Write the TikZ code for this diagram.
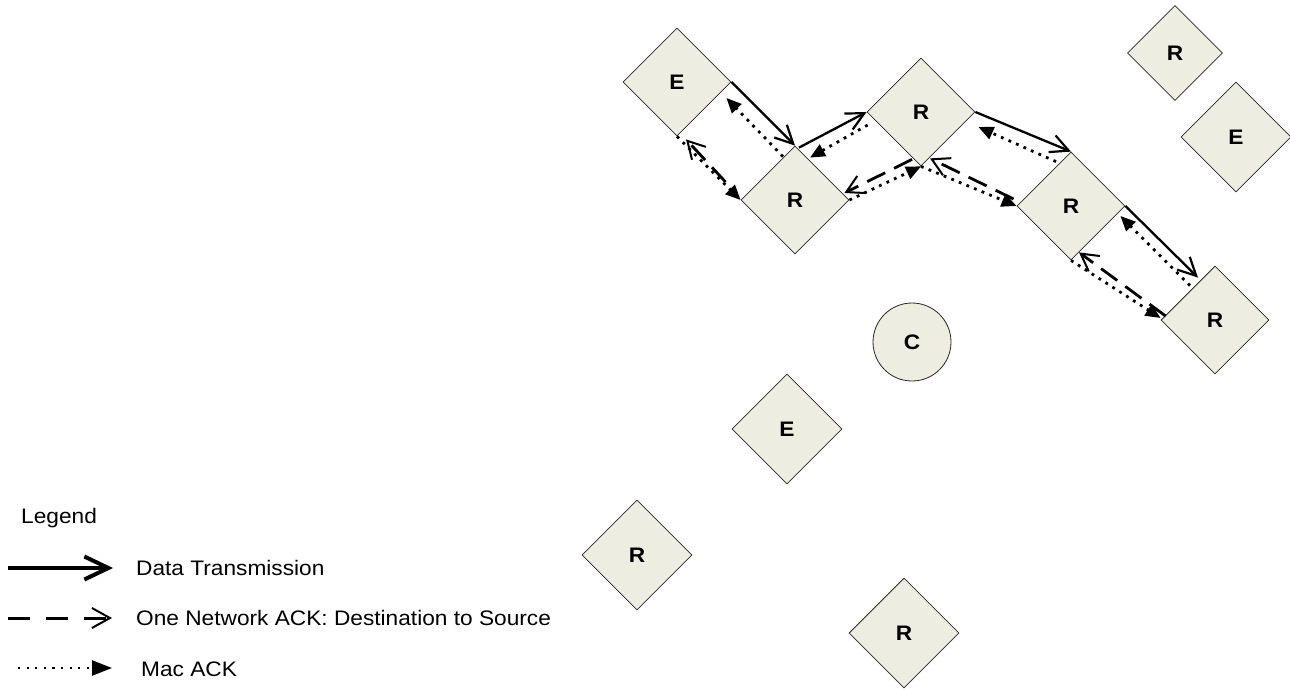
\documentclass[tikz,border=0pt]{standalone}
\usepackage{fontspec}
\setmainfont{Liberation Sans}[FakeStretch=1.08]
\usetikzlibrary{shapes.geometric,arrows.meta,calc}
\definecolor{nodefill}{RGB}{237,237,225}
\definecolor{edgegray}{RGB}{40,40,40}
\tikzset{
  dia/.style={shape=diamond, draw=edgegray, line width=0.8pt, fill=nodefill,
    minimum width=108pt, minimum height=108pt, inner sep=0pt,
    font=\bfseries\fontsize{21pt}{25pt}\selectfont},
  circ/.style={shape=circle, draw=edgegray, line width=0.8pt, fill=nodefill,
    minimum size=78pt, inner sep=0pt, font=\bfseries\fontsize{21pt}{25pt}\selectfont},
  lbl/.style={inner sep=0pt, font=\fontsize{21pt}{25pt}\selectfont},
  data/.style={line width=2.3pt, -{Straight Barb[length=18pt,width=18pt,line width=2.2pt]}},
  macack/.style={line width=2.8pt, dash pattern=on 2.8pt off 5.4pt,
    -{Triangle[length=15pt,width=13pt]}},
  netack/.style={line width=2.8pt, dash pattern=on 20pt off 10pt,
    -{Straight Barb[length=17pt,width=19pt,line width=2pt]}},
  legdata/.style={line width=4pt, -{Straight Barb[length=24pt,width=23pt,line width=4pt]}},
  legnet/.style={line width=3pt, dash pattern=on 22pt off 16pt,
    -{Straight Barb[length=18pt,width=20pt,line width=2pt]}},
  legmac/.style={line width=2.2pt, dash pattern=on 2.2pt off 6.4pt,
    -{Triangle[length=20pt,width=15pt]}},
}
\begin{document}
\begin{tikzpicture}[x=1pt,y=-1pt]
\useasboundingbox (0,0) rectangle (1290,688);

% nodes
\node[dia] (e1) at (677,82) {E};
\node[dia] (r1) at (795,200) {R};
\node[dia] (r2) at (921,112) {R};
\node[dia] (r3) at (1071,206) {R};
\node[dia] (r4) at (1215,320) {R};
\node[dia, minimum width=95pt, minimum height=95pt] (r5) at (1175,53) {R};
\node[dia, minimum width=110pt, minimum height=110pt] (e2) at (1236,137) {E};
\node[circ] (c) at (912,342) {C};
\node[dia, minimum width=110pt, minimum height=110pt] (e3) at (787,429) {E};
\node[dia, minimum width=110pt, minimum height=110pt] (r6) at (637,555) {R};
\node[dia, minimum width=110pt, minimum height=110pt] (r7) at (904,633) {R};

% pair E1 - R1
\draw[data] (e1.east) -- (r1.north);
\draw[macack] ($(r1.north)+(-12,11)$) -- ($(e1.east)+(-5,16)$);
\draw[macack] (e1.south) -- (r1.west);
\draw[netack] ($(r1.west)+(-15,-18)$) -- ($(e1.south)+(9,3)$);

% pair R1 - R2
\draw[data] ($(r1.north)+(4,2)$) -- (r2.west);
\draw[macack] ($(r2.west)+(1,13)$) -- ($(r1.north)+(15,12)$);
\draw[macack] (r1.east) -- (r2.south);
\draw[netack] ($(r2.south)+(-9,-7)$) -- ($(r1.east)+(-5,-7)$);

% pair R2 - R3
\draw[data] (r2.east) -- (r3.north);
\draw[macack] ($(r3.north)+(-15,10)$) -- ($(r2.east)+(3,15)$);
\draw[macack] (r2.south) -- (r3.west);
\draw[netack] ($(r3.west)+(-3,-7)$) -- ($(r2.south)+(9,-8)$);

% pair R3 - R4
\draw[data] (r3.east) -- ($(r4.north)+(-17,12)$);
\draw[macack] ($(r4.north)+(-25,20)$) -- ($(r3.east)+(-5,10)$);
\draw[macack] (r3.south) -- ($(r4.west)+(0,-2)$);
\draw[netack] ($(r4.west)+(5,-4)$) -- ($(r3.south)+(8,-8)$);

% legend
\node[lbl, anchor=base west] (leg) at (21,523) {Legend};
\coordinate (l1a) at (8,568);
\coordinate (l1b) at (113,568);
\draw[legdata] (l1a) -- (l1b);
\node[lbl, anchor=base west] (t1) at (136,575) {Data Transmission};
\coordinate (l2a) at (8,618);
\coordinate (l2b) at (112,618);
\draw[legnet] (l2a) -- (l2b);
\node[lbl, anchor=base west] (t2) at (136,625) {One Network ACK: Destination to Source};
\coordinate (l3a) at (18,668);
\coordinate (l3b) at (112,668);
\draw[legmac] (l3a) -- (l3b);
\node[lbl, anchor=base west] (t3) at (141,676) {Mac ACK};
\end{tikzpicture}
\end{document}
